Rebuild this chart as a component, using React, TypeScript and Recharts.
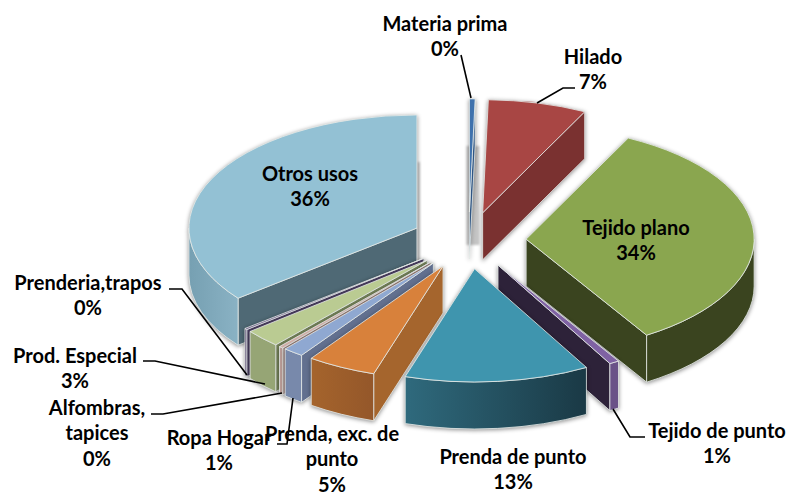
import { Pie, PieChart } from "recharts";

const CATEGORIES = [
  "Materia prima",
  "Hilado",
  "Tejido plano",
  "Tejido de punto",
  "Prenda de punto",
  "Prenda, exc. de punto",
  "Ropa Hogar",
  "Alfombras, tapices",
  "Prod. Especial",
  "Prenderia,trapos",
  "Otros usos",
];
const SHARES = [0.4, 7.0, 33.8, 0.7, 13.1, 4.9, 1.45, 0.3, 2.6, 0.2, 35.7];

// top, outer wall, radial wall
const TOP_COLORS = ["#3f72ad", "#a84644", "#8aa64f", "#7f62a3", "#3f95ae", "#d8813b", "#8fa8d1", "#d3b0aa", "#bacb92", "#6f5f8c", "#93c1d4"];
const WALL_COLORS = ["#2f5583", "#7a3130", "#3a441f", "#6a5288", "url(#wallPunto)", "url(#wallExc)", "#7889ab", "#b89a95", "#96a575", "#5a4c72", "url(#wallOtros)"];
const SIDE_COLORS = ["#2f5583", "#7a3130", "#3a441f", "#2d2239", "#1f4754", "#a5652d", "#62708f", "#9b7f7a", "#75835a", "#4a3e60", "#4f6975"];

const LABEL_LINES: string[][] = [
  ["Materia prima"],
  ["Hilado"],
  ["Tejido plano"],
  ["Tejido de punto"],
  ["Prenda de punto"],
  ["Prenda, exc. de", "punto"],
  ["Ropa Hogar"],
  ["Alfombras,", "tapices"],
  ["Prod. Especial"],
  ["Prenderia,trapos"],
  ["Otros usos"],
];
const LABEL_X = [445, 593, 636, 717, 513, 332, 219, 97, 75, 88, 310];
const LABEL_TOP = [24, 57, 228, 431, 457, 434, 438, 408, 356, 283, 174];
const LEADERS = [
  "M461 55L471 98",
  "M537 103L563 88L575 88",
  "",
  "M613 409L630 437L645 437",
  "",
  "",
  "M277 444L287 444L293 398",
  "M151 414L163 414L282 393",
  "M143 361L155 361L265 384",
  "M169 289L182 289L247 375",
  "",
];

const CX = 468.7;
const CY = 240.5;
const RADIUS = 228;
const SQUASH = 0.496;
const EXPLODE = 57.5;
const DEPTH = 47;
const LINE_HEIGHT = 25.6;
const BACK_SLICES = 4; // first four are painted first, clockwise

const rows = CATEGORIES.map((name, i) => ({ name, value: SHARES[i] }));
const reversedRows = [...rows].reverse();

const rad = (d: number) => (d * Math.PI) / 180;

function Slice(props: any) {
  const { startAngle, endAngle, slot } = props;
  // recharts angles to clockwise-from-top
  const a0 = 90 - Math.max(startAngle, endAngle) + (startAngle > 90 || endAngle > 90 ? 360 : 0);
  const a1 = a0 + Math.abs(endAngle - startAngle);
  const mid = (a0 + a1) / 2;
  const ox = CX + Math.sin(rad(mid)) * EXPLODE;
  const oy = CY - Math.cos(rad(mid)) * EXPLODE * SQUASH;
  const ry = RADIUS * SQUASH;
  const px = (a: number) => ox + Math.sin(rad(a)) * RADIUS;
  const py = (a: number) => oy - Math.cos(rad(a)) * ry;
  const arc = (a: number, b: number, sweep: number, dy = 0) =>
    `A${RADIUS} ${ry} 0 ${Math.abs(b - a) > 180 ? 1 : 0} ${sweep} ${px(b)} ${py(b) + dy}`;
  const radial = (a: number) =>
    `M${ox} ${oy}L${px(a)} ${py(a)}L${px(a)} ${py(a) + DEPTH}L${ox} ${oy + DEPTH}Z`;

  const wallFrom = Math.max(a0, 90);
  const wallTo = Math.min(a1, 270);
  const edge = { stroke: "#e6ebe9", strokeWidth: 1, strokeOpacity: 0.8, strokeLinejoin: "round" as const };
  // grey band left by the hidden back wall, only these two slices show it
  const bandWidth = slot === 0 ? 13 : slot === 10 ? 3 : 0;
  const bandLeft = slot === 0 ? ox - 3 : px(a1);

  return (
    <g>
      {bandWidth > 0 && (
        <rect
          x={bandLeft}
          y={py(a1) + DEPTH}
          width={bandWidth}
          height={oy + DEPTH - 14 - py(a1) - DEPTH}
          fill="#c4c4c4"
          style={{ filter: "blur(0.8px)" }}
        />
      )}
      <g style={{ filter: "drop-shadow(0px 1px 2px rgba(0,0,0,0.45))" }}>
        {a0 > 180 && a0 < 360 && <path d={radial(a0)} fill={SIDE_COLORS[slot]} {...edge} />}
        {a1 > 0 && a1 < 180 && <path d={radial(a1)} fill={SIDE_COLORS[slot]} {...edge} />}
        {wallTo > wallFrom && (
          <path
            d={`M${px(wallFrom)} ${py(wallFrom)}${arc(wallFrom, wallTo, 1)}L${px(wallTo)} ${py(wallTo) + DEPTH}${arc(wallTo, wallFrom, 0, DEPTH)}Z`}
            fill={WALL_COLORS[slot]}
            {...edge}
          />
        )}
        <path
          d={`M${ox} ${oy}L${px(a0)} ${py(a0)}${arc(a0, a1, 1)}Z`}
          fill={TOP_COLORS[slot]}
          {...edge}
        />
      </g>
    </g>
  );
}

function BackSlice(props: any) {
  return props.index < BACK_SLICES ? <Slice {...props} slot={props.index} /> : <g />;
}

function FrontSlice(props: any) {
  const slot = CATEGORIES.length - 1 - props.index;
  return slot >= BACK_SLICES ? <Slice {...props} slot={slot} /> : <g />;
}

function SliceLabel(props: any) {
  const slot = CATEGORIES.length - 1 - props.index;
  const lines = [...LABEL_LINES[slot], `${Math.round(SHARES[slot])}%`];
  return (
    <g>
      {LEADERS[slot] && <path d={LEADERS[slot]} fill="none" stroke="#000" strokeWidth={1.6} />}
      <text
        textAnchor="middle"
        fontFamily="Lato, Carlito, sans-serif"
        fontWeight={700}
        fontSize={20}
        fill="#000"
      >
        {lines.map((line, i) => (
          <tspan key={i} x={LABEL_X[slot]} y={LABEL_TOP[slot] + i * LINE_HEIGHT + 6.5}>
            {line}
          </tspan>
        ))}
      </text>
    </g>
  );
}

export default function App() {
  return (
    <div style={{ position: "absolute", left: 0, top: 0, width: 789, height: 493, background: "#fff" }}>
      <PieChart width={789} height={493} margin={{ top: 0, right: 0, bottom: 0, left: 0 }}>
        <defs>
          <linearGradient id="wallOtros" x1="0" y1="0" x2="1" y2="0">
            <stop offset="0%" stopColor="#76a0b2" />
            <stop offset="100%" stopColor="#8ab2c4" />
          </linearGradient>
          <linearGradient id="wallPunto" x1="0" y1="0" x2="1" y2="0">
            <stop offset="0%" stopColor="#2f6a7d" />
            <stop offset="100%" stopColor="#1a3945" />
          </linearGradient>
          <linearGradient id="wallExc" x1="0" y1="0" x2="1" y2="0">
            <stop offset="0%" stopColor="#a5642c" />
            <stop offset="100%" stopColor="#94572a" />
          </linearGradient>
        </defs>
        <Pie
          data={rows}
          dataKey="value"
          nameKey="name"
          cx={CX}
          cy={CY}
          outerRadius={RADIUS}
          startAngle={90}
          endAngle={-270}
          stroke="none"
          shape={BackSlice}
          isAnimationActive={false}
        />
        <Pie
          data={reversedRows}
          dataKey="value"
          nameKey="name"
          cx={CX}
          cy={CY}
          outerRadius={RADIUS}
          startAngle={90}
          endAngle={450}
          stroke="none"
          shape={FrontSlice}
          label={SliceLabel}
          labelLine={false}
          isAnimationActive={false}
        />
      </PieChart>
    </div>
  );
}
